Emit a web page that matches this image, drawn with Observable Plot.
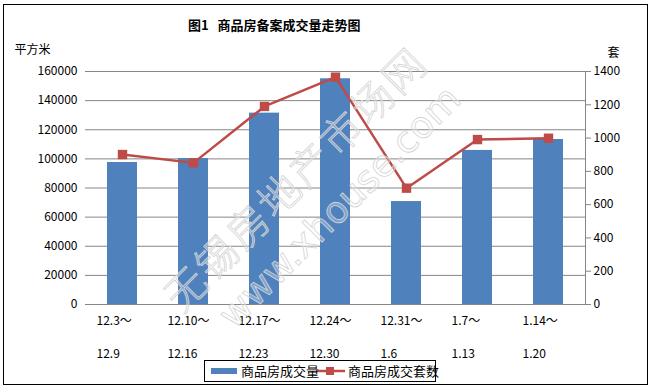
<!DOCTYPE html>
<html><head><meta charset="utf-8">
<script src="https://cdn.jsdelivr.net/npm/d3@7"></script>
<script src="https://cdn.jsdelivr.net/npm/@observablehq/plot@0.6"></script>
<style>
html,body{margin:0;padding:0;background:#fff;}
#wrap{position:relative;width:654px;height:390px;overflow:hidden;font-family:"Noto Sans CJK SC","Noto Sans",sans-serif;}
#border{position:absolute;left:3px;top:4px;width:645px;height:381px;border:1px solid #000;box-sizing:border-box;}
#title{position:absolute;left:0;top:0;width:654px;height:40px;}
#title span{position:absolute;left:188px;top:15px;font-size:13px;font-weight:bold;color:#000;white-space:pre;}
#chart{position:absolute;left:0;top:40px;}
#legend{position:absolute;left:204px;top:360px;width:232px;height:22px;border:1px solid #000;box-sizing:border-box;font-size:13px;color:#000;background:#fff;}
.lg{position:absolute;top:1px;white-space:nowrap;line-height:18px;}
#wm{position:absolute;left:0;top:0;width:654px;height:390px;pointer-events:none;}
</style></head>
<body>
<div id="wrap">
  <div id="title"><span id="titletext"></span></div>
  <div id="chart"></div>
  <svg id="wm" width="654" height="390"></svg>
  <div id="legend">
    <svg width="230" height="20" style="position:absolute;left:0;top:0">
      <rect x="6" y="7" width="26" height="6" fill="#4f81bd"></rect>
      <line x1="111" x2="140" y1="10" y2="10" stroke="#be4b48" stroke-width="2.5"></line>
      <rect x="121" y="6" width="8" height="8" fill="#be4b48"></rect>
    </svg>
    <span class="lg" id="lg1" style="left:36px"></span>
    <span class="lg" id="lg2" style="left:143px"></span>
  </div>
  <div id="border"></div>
</div>
<script>
const title = "图1   商品房备案成交量走势图";
const leftUnit = "平方米";
const rightUnit = "套";
const seriesArea = "商品房成交量";
const seriesUnits = "商品房成交套数";
const starts = ["12.3～","12.10～","12.17～","12.24～","12.31～","1.7～","1.14～"];
const ends = ["12.9","12.16","12.23","12.30","1.6","1.13","1.20"];
const area = [97500, 100200, 131400, 155000, 70700, 105800, 113300];
const units = [901, 851, 1190, 1366, 699, 991, 999];
const leftTicks = [0,20000,40000,60000,80000,100000,120000,140000,160000];
const rightTicks = [0,200,400,600,800,1000,1200,1400];
const watermark1 = "无锡房地产市场网";
const watermark2 = "www.xhouse.com";

const leftMax = 160000, rightMax = 1400;
const k = leftMax / rightMax;
const rows = starts.map((s, i) => ({start: s, end: ends[i], area: area[i], units: units[i]}));

document.getElementById("titletext").textContent = title;
document.getElementById("lg1").textContent = seriesArea;
document.getElementById("lg2").textContent = seriesUnits;

const grid = "#868686";
const font = 12;

const chart = Plot.plot({
  width: 654,
  height: 320,
  marginLeft: 85,
  marginRight: 69,
  marginTop: 31,
  marginBottom: 56,
  style: {fontFamily: '"Noto Sans CJK SC","Noto Sans",sans-serif', fontSize: font + "px", color: "#000", background: "transparent"},
  x: {domain: starts, paddingInner: 0.58, paddingOuter: 0.29, axis: null},
  y: {domain: [0, leftMax], axis: null},
  marks: [
    Plot.gridY(leftTicks, {stroke: grid, strokeOpacity: 1, strokeWidth: 1}),
    Plot.frame({anchor: "right", stroke: grid, strokeWidth: 1}),
    Plot.axisY(leftTicks, {anchor: "left", tickSize: 0, tickPadding: 8, tickFormat: d => String(d), fontSize: font, label: null, fill: "#000"}),
    Plot.axisY(rightTicks.map(v => v * k), {anchor: "right", tickSize: 5, tickPadding: 3, stroke: grid, tickFormat: d => String(Math.round(d / k)), fontSize: font, label: null, fill: "#000"}),
    Plot.barY(rows, {x: "start", y: "area", fill: "#4f81bd"}),
    Plot.line(rows, {x: "start", y: d => d.units * k, stroke: "#be4b48", strokeWidth: 2.5}),
    Plot.dot(rows, {x: "start", y: d => d.units * k, symbol: "square", fill: "#be4b48", r: 5.3}),
    Plot.axisX({tickSize: 0, tickPadding: 12, textAnchor: "start", dx: -26, fontSize: font, label: null, fill: "#000"}),
    Plot.axisX({tickSize: 0, tickPadding: 45, textAnchor: "start", dx: -26, tickFormat: d => ends[starts.indexOf(d)], fontSize: font, label: null, fill: "#000"}),
    Plot.text([leftUnit], {frameAnchor: "top-left", textAnchor: "start", lineAnchor: "middle", dx: -71, dy: -21, fontSize: 12, fill: "#000"}),
    Plot.text([rightUnit], {frameAnchor: "top-right", textAnchor: "start", lineAnchor: "middle", dx: 22, dy: -18, fontSize: 12, fill: "#000"})
  ]
});
document.getElementById("chart").appendChild(chart);

// faint diagonal watermark
const wm = d3.select("#wm");
wm.append("text")
  .attr("transform", "translate(182,314) rotate(-45)")
  .attr("font-size", 41)
  .attr("font-family", '"Noto Sans CJK SC",sans-serif')
  .attr("font-weight", 300)
  .attr("fill", "#fff").attr("fill-opacity", 0.3)
  .attr("stroke", "#d4d4d4").attr("stroke-width", 0.8)
  .attr("letter-spacing", 3)
  .text(watermark1);
wm.append("text")
  .attr("transform", "translate(234,330) rotate(-45)")
  .attr("font-size", 37)
  .attr("font-family", '"DejaVu Sans",sans-serif')
  .attr("fill", "#fff").attr("fill-opacity", 0.3)
  .attr("stroke", "#d4d4d4").attr("stroke-width", 0.8)
  .text(watermark2);
</script>
</body></html>
